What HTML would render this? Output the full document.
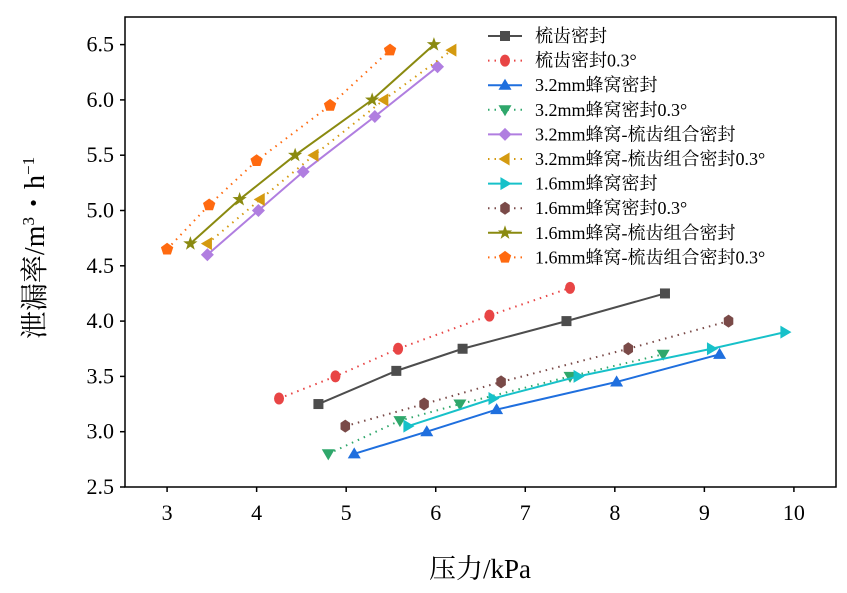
<!DOCTYPE html>
<html><head><meta charset="utf-8"><style>
body{margin:0;background:#fff}
svg text{font-family:"Liberation Serif","Noto Serif CJK SC",serif}
</style></head><body>
<svg id="chart" width="847" height="588" xmlns="http://www.w3.org/2000/svg"></svg>
<script>
const xTicks=[3,4,5,6,7,8,9,10];
const yTicks=[2.5,3.0,3.5,4.0,4.5,5.0,5.5,6.0,6.5];
const seriesNames=["梳齿密封","梳齿密封0.3°","3.2mm蜂窝密封","3.2mm蜂窝密封0.3°","3.2mm蜂窝-梳齿组合密封","3.2mm蜂窝-梳齿组合密封0.3°","1.6mm蜂窝密封","1.6mm蜂窝密封0.3°","1.6mm蜂窝-梳齿组合密封","1.6mm蜂窝-梳齿组合密封0.3°"];
const xs0=[4.69,5.56,6.30,7.46,8.56], ys0=[3.25,3.55,3.75,4.0,4.25];
const xs1=[4.25,4.88,5.58,6.60,7.50], ys1=[3.3,3.5,3.75,4.05,4.3];
const xs2=[5.09,5.90,6.68,8.02,9.17], ys2=[2.8,3.0,3.2,3.45,3.7];
const xs3=[4.80,5.60,6.27,7.50,8.54], ys3=[2.8,3.1,3.25,3.5,3.7];
const xs4=[3.45,4.02,4.52,5.32,6.02], ys4=[4.6,5.0,5.35,5.85,6.3];
const xs5=[3.45,4.04,4.64,5.42,6.18], ys5=[4.7,5.1,5.5,6.0,6.45];
const xs6=[5.69,6.64,7.59,9.08,9.90], ys6=[3.05,3.3,3.5,3.75,3.9];
const xs7=[4.99,5.87,6.73,8.15,9.27], ys7=[3.05,3.25,3.45,3.75,4.0];
const xs8=[3.26,3.81,4.43,5.29,5.98], ys8=[4.7,5.1,5.5,6.0,6.5];
const xs9=[3.0,3.47,4.0,4.82,5.49], ys9=[4.65,5.05,5.45,5.95,6.45];

const NS="http://www.w3.org/2000/svg";
const svg=document.getElementById('chart');
const L=125,R=836,T=17,B=487;
const X=v=>L+(v-2.53)*(R-L)/(10.47-2.53);
const Y=v=>B-(v-2.5)*110.6;
function mk(tag,attrs,parent){const e=document.createElementNS(NS,tag);for(const k in attrs)e.setAttribute(k,attrs[k]);(parent||svg).appendChild(e);return e;}
const xsAll=[xs0,xs1,xs2,xs3,xs4,xs5,xs6,xs7,xs8,xs9];
const ysAll=[ys0,ys1,ys2,ys3,ys4,ys5,ys6,ys7,ys8,ys9];
const colors=["#4d4d4d","#e84545","#1f6fde","#2fa76b","#b07ee0","#d49a10","#17c1c9","#7a4a48","#8a8a10","#ff6a10"];
const markers=["square","circle","up","down","diamond","left","right","hex","star","pent"];
const dotted=[false,true,false,true,false,true,false,true,false,true];

function marker(type,cx,cy,c,parent){
  const s=6.5;
  if(type==="square")return mk('rect',{x:cx-5,y:cy-5,width:10,height:10,fill:c},parent);
  if(type==="circle")return mk('ellipse',{cx,cy,rx:5,ry:6,fill:c},parent);
  const poly=(pts)=>mk('polygon',{points:pts.map(q=>q.join(',')).join(' '),fill:c},parent);
  if(type==="up")return poly([[cx,cy-s],[cx+s,cy+s*0.7],[cx-s,cy+s*0.7]]);
  if(type==="down")return poly([[cx,cy+s],[cx+s,cy-s*0.7],[cx-s,cy-s*0.7]]);
  if(type==="left")return poly([[cx-s,cy],[cx+s*0.7,cy-s],[cx+s*0.7,cy+s]]);
  if(type==="right")return poly([[cx+s,cy],[cx-s*0.7,cy-s],[cx-s*0.7,cy+s]]);
  if(type==="diamond")return poly([[cx,cy-s],[cx+s,cy],[cx,cy+s],[cx-s,cy]]);
  let pts=[];
  if(type==="hex"){for(let i=0;i<6;i++){const a=Math.PI/2+i*Math.PI/3;pts.push([cx+5.5*Math.cos(a),cy+6.5*Math.sin(a)]);}}
  if(type==="pent"){for(let i=0;i<5;i++){const a=-Math.PI/2+i*2*Math.PI/5;pts.push([cx+6.5*Math.cos(a),cy+6.5*Math.sin(a)]);}}
  if(type==="star"){for(let i=0;i<10;i++){const a=-Math.PI/2+i*Math.PI/5;const r=i%2?3:7.5;pts.push([cx+r*Math.cos(a),cy+r*Math.sin(a)]);}}
  return poly(pts);
}

const frame=mk('rect',{x:L,y:T,width:R-L,height:B-T,fill:'none',stroke:'#000','stroke-width':1.5});


xTicks.forEach(t=>{
  const l=mk('line',{x1:X(t),x2:X(t),y1:B,y2:B+5,stroke:'#000','stroke-width':1.5});
  
  
  const tx=mk('text',{x:X(t),y:B+33,'text-anchor':'middle','font-size':22});
  tx.textContent=t;
  
  
});
yTicks.forEach(t=>{
  const l=mk('line',{x1:L-5,x2:L,y1:Y(t),y2:Y(t),stroke:'#000','stroke-width':1.5});
  
  
  const tx=mk('text',{x:L-11,y:Y(t)+7,'text-anchor':'end','font-size':22});
  tx.textContent=t.toFixed(1);
  
  
});
const xl=mk('text',{x:480,y:578,'text-anchor':'middle','font-size':27});
xl.textContent='压力/kPa';


const yl=mk('text',{x:0,y:0,'text-anchor':'middle','font-size':28,transform:'translate(44,248) rotate(-90)'});
yl.innerHTML='泄漏率/m<tspan dy="-10" font-size="17">3</tspan><tspan dy="10">・h</tspan><tspan dy="-10" font-size="17">−1</tspan>';



xsAll.forEach((xs,i)=>{
  const g=mk('g',{});
  
  
  const pts=xs.map((x,j)=>X(x)+','+Y(ysAll[i][j])).join(' ');
  const pl=mk('polyline',{points:pts,fill:'none',stroke:colors[i],'stroke-width':2,'stroke-dasharray':dotted[i]?'1.5 5':'none'},g);
  
  
  xs.forEach((x,j)=>{
    const m=marker(markers[i],X(x),Y(ysAll[i][j]),colors[i],g);
    
    
  });
});

const lg=mk('g',{});


seriesNames.forEach((n,i)=>{
  const y=36+i*24.6;
  const e=mk('g',{},lg);
  
  
  mk('line',{x1:488,x2:522,y1:y,y2:y,stroke:colors[i],'stroke-width':2,'stroke-dasharray':dotted[i]?'1.5 5':'none'},e);
  marker(markers[i],505,y,colors[i],e);
  const t=mk('text',{x:535,y:y+6,'font-size':18},e);
  t.textContent=n;
});
</script>
</body></html>
